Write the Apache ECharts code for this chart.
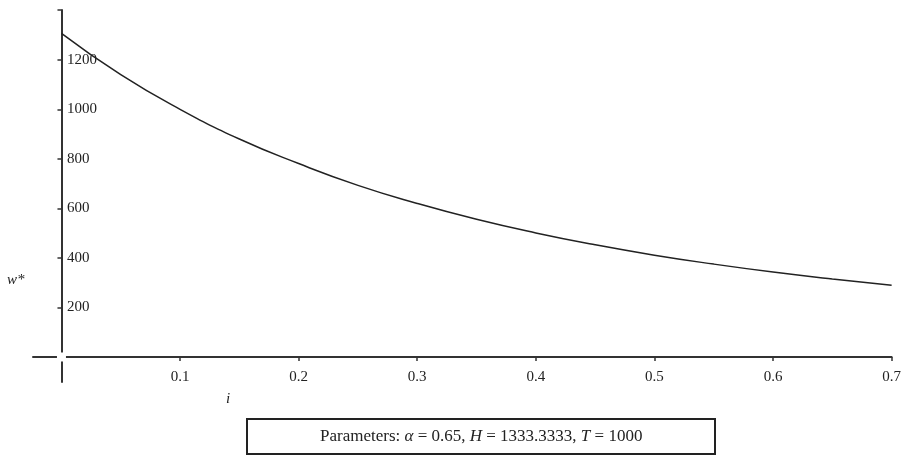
<!DOCTYPE html>
<html>
<head>
<meta charset="utf-8">
<script src="https://cdn.jsdelivr.net/npm/echarts@6/dist/echarts.min.js"></script>
<style>
  html, body { margin: 0; padding: 0; background: #fff; }
  #main { width: 904px; height: 462px; }
</style>
</head>
<body>
<div id="main"></div>
<script>
// values
const iValues = [0, 0.05, 0.1, 0.15, 0.2, 0.25, 0.3, 0.35, 0.4, 0.45, 0.5, 0.55, 0.6, 0.65, 0.7]
const wValues = [1307, 1140, 1000, 880, 781, 693, 620, 556, 501, 453, 411, 375, 343, 315, 290]
const xTicks = [0.1, 0.2, 0.3, 0.4, 0.5, 0.6, 0.7]
const yTicks = [200, 400, 600, 800, 1000, 1200]
const yTickMarks = [200, 400, 600, 800, 1000, 1200, 1400]

const serif = '"Liberation Serif", "DejaVu Serif", serif'
const axisColor = '#333'

const chart = echarts.init(document.getElementById('main'))
const option = {
  animation: false,
  grid: { left: 33, right: 7, top: 10, bottom: 80, containLabel: false },
  title: {
    text: '{n|Parameters: }{i|α}{n| = 0.65, }{i|H}{n| = 1333.3333, }{i|T}{n| = 1000}',
    left: 247,
    top: 419,
    padding: [9, 73],
    borderColor: '#222',
    borderWidth: 2,
    textStyle: {
      fontWeight: 'normal',
      rich: {
        n: { fontFamily: serif, fontSize: 17, fontWeight: 'normal', color: '#222' },
        i: { fontFamily: serif, fontSize: 17, fontWeight: 'normal', fontStyle: 'italic', color: '#222' }
      }
    }
  },
  xAxis: {
    type: 'value',
    min: -0.024,
    max: 0.7,
    axisLine: { onZero: true, lineStyle: { color: axisColor, width: 2 } },
    axisTick: { customValues: xTicks, length: 4, lineStyle: { color: axisColor, width: 1.5 } },
    axisLabel: {
      customValues: xTicks,
      margin: -12,
      fontFamily: serif,
      fontSize: 15,
      color: '#222',
      formatter: v => v.toFixed(1)
    },
    splitLine: { show: false }
  },
  yAxis: {
    type: 'value',
    min: -101,
    max: 1401,
    axisLine: { onZero: true, lineStyle: { color: axisColor, width: 2 } },
    axisTick: { customValues: yTickMarks, length: 4, lineStyle: { color: axisColor, width: 1.5 } },
    axisLabel: {
      customValues: yTicks,
      inside: true,
      margin: 34,
      align: 'left',
      fontFamily: serif,
      fontSize: 15,
      color: '#222',
      formatter: v => String(v)
    },
    splitLine: { show: false }
  },
  graphic: [
    { type: 'text', left: 7, top: 273, style: { text: 'w*', font: 'italic 15px ' + serif, fill: '#222' } },
    { type: 'text', left: 226, top: 392, style: { text: 'i', font: 'italic 15px ' + serif, fill: '#222' } }
  ],
  series: [
    {
      type: 'line',
      data: iValues.map((x, k) => [x, wValues[k]]),
      smooth: true,
      showSymbol: false,
      lineStyle: { color: '#222', width: 1.5 },
      z: 3
    },
    {
      // white break where the axes cross
      type: 'scatter',
      data: [[0, 0]],
      symbol: 'rect',
      symbolSize: 9,
      itemStyle: { color: '#fff', opacity: 1 },
      emphasis: { disabled: true },
      silent: true,
      z: 10
    }
  ]
}
chart.setOption(option)
</script>
</body>
</html>
